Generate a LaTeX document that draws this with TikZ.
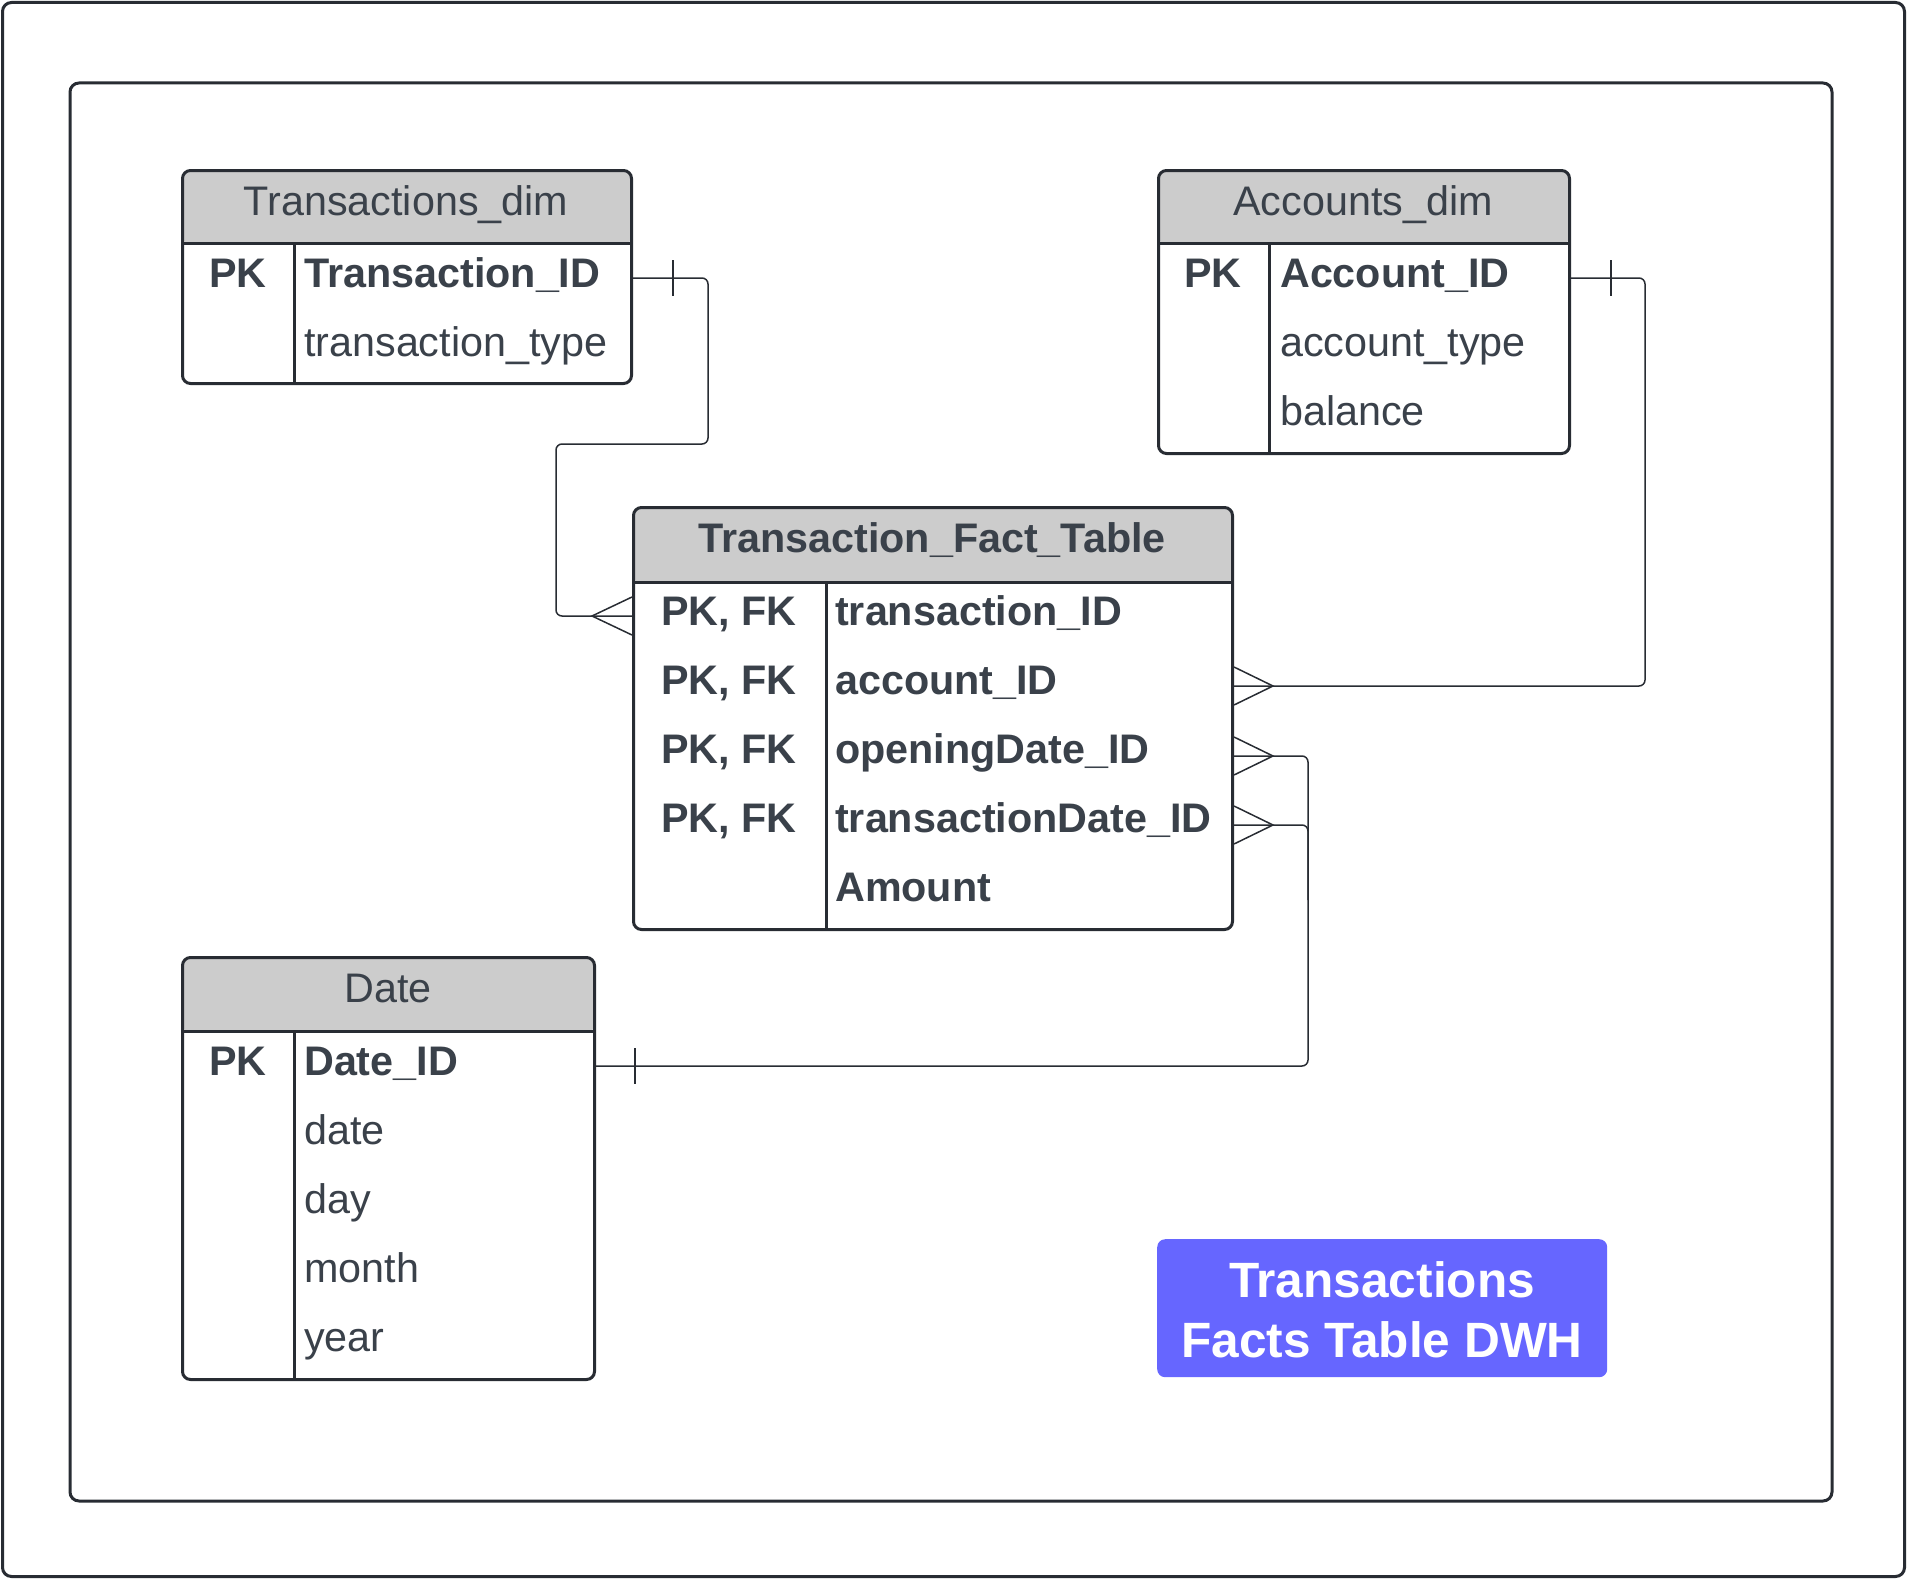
\documentclass[tikz,border=0pt]{standalone}
\usepackage{fontspec}
\setmainfont{Liberation Sans}
\definecolor{lnc}{HTML}{282C33}
\definecolor{txc}{HTML}{3A414A}
\definecolor{headfill}{HTML}{CCCCCC}
\definecolor{titlefill}{HTML}{6666FF}
\tikzset{
  frame/.style={draw=lnc, line width=3pt, rounded corners=9pt},
  tablebox/.style={draw=lnc, line width=3pt, fill=white, rounded corners=8pt, inner sep=0pt, anchor=north west,
    path picture={\fill[headfill] (path picture bounding box.north west) rectangle ([yshift=-#1]path picture bounding box.north east);}},
  tline/.style={draw=lnc, line width=3pt},
  conn/.style={draw=lnc, line width=1.5pt},
  htext/.style={text=txc, font=\fontsize{41.3}{48}\selectfont, anchor=base, inner sep=0pt},
  hbtext/.style={text=txc, font=\fontsize{41.3}{48}\selectfont\bfseries, anchor=base, inner sep=0pt},
  ktext/.style={text=txc, font=\fontsize{41.3}{48}\selectfont\bfseries, anchor=base, inner sep=0pt},
  ftext/.style={text=txc, font=\fontsize{41.3}{48}\selectfont, anchor=base west, inner sep=0pt},
  fbtext/.style={text=txc, font=\fontsize{41.3}{48}\selectfont\bfseries, anchor=base west, inner sep=0pt},
  titlebox/.style={fill=titlefill, rounded corners=8pt, inner sep=0pt, anchor=north west},
  titletext/.style={text=white, font=\fontsize{49.6}{58}\selectfont\bfseries, anchor=base, inner sep=0pt}
}
\begin{document}
\begin{tikzpicture}[x=1pt,y=-1pt]
\useasboundingbox (0,0) rectangle (1907,1579);
% frames
\draw[frame] (2.5,2.5) rectangle (1904.5,1576.5);
\draw[frame] (70,83) rectangle (1832,1501);

% ---------- Transactions_dim ----------
\node[tablebox=74pt, minimum width=449pt, minimum height=213pt] (tdim) at (181,169) {};
\draw[tline] ([yshift=-74pt]tdim.north west) -- ([yshift=-74pt]tdim.north east);
\draw[tline] (294,243) -- (294,382);
\node[htext] (tdimh) at (406,215) {Transactions\_dim};
\node[ktext] (tdk1) at (238,287) {PK};
\node[fbtext] (tdf1) at (304,287) {Transaction\_ID};
\node[ftext] (tdf2) at (304,356) {transaction\_type};
\coordinate (tr1) at (0,278);

% ---------- Accounts_dim ----------
\node[tablebox=74pt, minimum width=411pt, minimum height=283pt] (adim) at (1157,169) {};
\draw[tline] ([yshift=-74pt]adim.north west) -- ([yshift=-74pt]adim.north east);
\draw[tline] (1269,243) -- (1269,452);
\node[htext] (adimh) at (1363,215) {Accounts\_dim};
\node[ktext] (adk1) at (1213,287) {PK};
\node[fbtext] (adf1) at (1280,287) {Account\_ID};
\node[ftext] (adf2) at (1280,356) {account\_type};
\node[ftext] (adf3) at (1280,425) {balance};
\coordinate (ar1) at (0,278);

% ---------- Transaction_Fact_Table ----------
\node[tablebox=76pt, minimum width=599pt, minimum height=422pt] (fact) at (632,506) {};
\draw[tline] ([yshift=-76pt]fact.north west) -- ([yshift=-76pt]fact.north east);
\draw[tline] (826,582) -- (826,928);
\node[hbtext] (facth) at (932,552) {Transaction\_Fact\_Table};
\node[ktext] (fk1) at (729,625) {PK, FK};
\node[ktext] (fk2) at (729,694) {PK, FK};
\node[ktext] (fk3) at (729,763) {PK, FK};
\node[ktext] (fk4) at (729,832) {PK, FK};
\node[fbtext] (ff1) at (835,625) {transaction\_ID};
\node[fbtext] (ff2) at (835,694) {account\_ID};
\node[fbtext] (ff3) at (835,763) {openingDate\_ID};
\node[fbtext] (ff4) at (835,832) {transactionDate\_ID};
\node[fbtext] (ff5) at (835,901) {Amount};
\coordinate (fr1) at (0,616);
\coordinate (fr2) at (0,686);
\coordinate (fr3) at (0,756);
\coordinate (fr4) at (0,825);

% ---------- Date ----------
\node[tablebox=75pt, minimum width=412pt, minimum height=422pt] (date) at (181,956) {};
\draw[tline] ([yshift=-75pt]date.north west) -- ([yshift=-75pt]date.north east);
\draw[tline] (294,1031) -- (294,1378);
\node[htext] (dateh) at (388,1002) {Date};
\node[ktext] (dk1) at (238,1075) {PK};
\node[fbtext] (df1) at (304,1075) {Date\_ID};
\node[ftext] (df2) at (304,1144) {date};
\node[ftext] (df3) at (304,1213) {day};
\node[ftext] (df4) at (304,1282) {month};
\node[ftext] (df5) at (304,1351) {year};
\coordinate (dr1) at (0,1066);

% ---------- title ----------
\node[titlebox, minimum width=450pt, minimum height=138pt] (title) at (1157,1239) {};
\node[titletext] (title1) at (1382,1297) {Transactions};
\node[titletext] (title2) at (1382,1357) {Facts Table DWH};

% ---------- connectors ----------
% Transactions_dim -> fact
\draw[conn, rounded corners=6pt] (tdim.east |- tr1) -- (708,278) -- (708,444) -- (556,444) -- (556,616) -- (fact.west |- fr1);
\draw[conn] ([xshift=40pt]tdim.east |- tr1) ++(0,-18) -- ++(0,36);
\draw[conn] (fact.west |- fr1) ++(0,-19) -- ++(-40,19) -- ++(40,19);

% Accounts_dim -> fact
\draw[conn, rounded corners=6pt] (adim.east |- ar1) -- (1645,278) -- (1645,686) -- (fact.east |- fr2);
\draw[conn] ([xshift=40pt]adim.east |- ar1) ++(0,-18) -- ++(0,36);
\draw[conn] (fact.east |- fr2) ++(0,-19) -- ++(39,19) -- ++(-39,19);

% Date -> fact (openingDate, transactionDate)
\draw[conn, rounded corners=6pt] (fact.east |- fr3) -- (1308,756) -- (1308,1066) -- (date.east |- dr1);
\draw[conn, rounded corners=6pt] (fact.east |- fr4) -- (1308,825) -- (1308,900);
\draw[conn] (fact.east |- fr3) ++(0,-19) -- ++(39,19) -- ++(-39,19);
\draw[conn] (fact.east |- fr4) ++(0,-19) -- ++(39,19) -- ++(-39,19);
\draw[conn] ([xshift=39pt]date.east |- dr1) ++(0,-18) -- ++(0,36);
\end{tikzpicture}
\end{document}
